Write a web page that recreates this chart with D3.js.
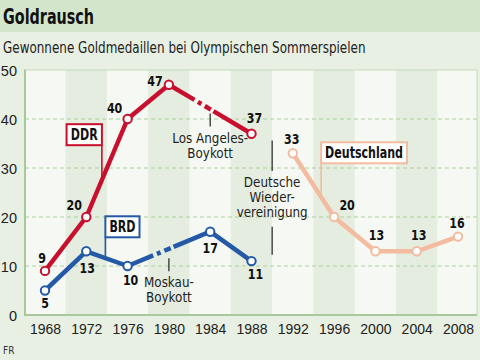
<!DOCTYPE html>
<html><head><meta charset="utf-8">
<script src="https://cdn.jsdelivr.net/npm/d3@7"></script>
<style>
body{margin:0;padding:0;background:#e8f0e3;}
svg{display:block;font-family:"DejaVu Sans Condensed","Liberation Sans Narrow",sans-serif;}
</style></head>
<body>
<svg id="c" width="480" height="360"></svg>
<script>
const years = [1968,1972,1976,1980,1984,1988,1992,1996,2000,2004,2008];
const ddrYears = [1968,1972,1976,1980,1988];
const ddrValues = [9,20,40,47,37];
const brdYears = [1968,1972,1976,1984,1988];
const brdValues = [5,13,10,17,11];
const deYears = [1992,1996,2000,2004,2008];
const deValues = [33,20,13,13,16];
const yTicks = [0,10,20,30,40,50];

const title = "Goldrausch";
const subtitle = "Gewonnene Goldmedaillen bei Olympischen Sommerspielen";
const source = "FR";

// label offsets (px) relative to markers
const ddrLabelOff = [[-3,-8],[-12,-7],[-13,-6],[-14,1],[3,-11]];
const brdLabelOff = [[0,17],[1,22],[3,19],[0,21],[4,18]];
const deLabelOff = [[-1,-9],[13,-7],[1,-11],[2,-11],[-1,-9]];

(function(){
const W=480,H=360;
const svg=d3.select("#c");
const x=d3.scaleLinear().domain([1968,2008]).range([45,458]);
const y=d3.scaleLinear().domain([0,50]).range([315,70]);
const step=(x(2008)-x(1968))/10;
const pL=25,pR=477,pT=y(50),pB=y(0);

const red="#c8102e", blue="#2459a8", salmon="#f3bb9f";

// scaled text helper (condensed look)
function T(parent,px,py,str,o){
  const gg=parent.append("g").attr("transform",`translate(${px},${py}) scale(${o.sx||1},1)`);
  const t=gg.append("text").attr("x",0).attr("y",0)
    .attr("font-size",o.size).attr("font-weight",o.weight||"normal")
    .attr("text-anchor",o.anchor||"start").attr("fill",o.fill||"#222");
  if(o.dy) t.attr("dy",o.dy);
  t.text(str);
  return {g:gg,t:t};
}

svg.append("rect").attr("width",W).attr("height",H).attr("fill","#e8f0e3");
svg.append("rect").attr("width",W).attr("height",32).attr("fill","#d3e5cb");
T(svg,3,24,title,{size:21,weight:"bold",sx:0.76,fill:"#111"});
T(svg,3,53,subtitle,{size:15.5,sx:0.86,fill:"#222"});

const g=svg.append("g");
g.selectAll("rect.s").data(years).join("rect")
 .attr("x",d=>Math.max(pL,x(d)-step/2))
 .attr("width",d=>Math.min(pR,x(d)+step/2)-Math.max(pL,x(d)-step/2))
 .attr("y",pT).attr("height",pB-pT)
 .attr("fill",(d,i)=>i%2? "#e5ede0":"#f6f9f3");

g.selectAll("line.gr").data(yTicks.filter(t=>t>0&&t<50)).join("line")
 .attr("x1",pL).attr("x2",pR).attr("y1",d=>y(d)).attr("y2",d=>y(d))
 .attr("stroke","#a9d19a").attr("stroke-width",1).attr("stroke-dasharray","4,3");
g.append("line").attr("x1",pL).attr("x2",pR).attr("y1",pT).attr("y2",pT).attr("stroke","#c3dcb8").attr("stroke-width",1);
g.append("line").attr("x1",pR).attr("x2",pR).attr("y1",pT).attr("y2",pB).attr("stroke","#c3dcb8").attr("stroke-width",1);
g.append("line").attr("x1",pL).attr("x2",pL).attr("y1",pT-0.5).attr("y2",pB+1).attr("stroke","#a8c99b").attr("stroke-width",2);
g.append("line").attr("x1",pL-1).attr("x2",pR).attr("y1",pB).attr("y2",pB).attr("stroke","#a8c99b").attr("stroke-width",2);

const yAxis=d3.axisLeft(y).tickValues(yTicks).tickSize(0).tickPadding(0);
const ya=svg.append("g").attr("transform","translate(17,0)").call(yAxis);
ya.select(".domain").remove();
ya.selectAll("text").attr("font-size",14.5).attr("fill","#222").attr("font-family",null).attr("dy","0.36em");
const xAxis=d3.axisBottom(x).tickValues(years).tickFormat(d3.format("d")).tickSize(0).tickPadding(0);
const xa=svg.append("g").attr("transform","translate(0,324)").call(xAxis);
xa.select(".domain").remove();
xa.selectAll("text").attr("font-size",14).attr("fill","#222").attr("font-family",null).attr("dy","0.72em");

svg.append("text").attr("x",3).attr("y",354).attr("font-size",10).attr("fill","#333").text(source);

const divX=(x(1988)+x(1992))/2;
svg.append("line").attr("x1",divX).attr("x2",divX).attr("y1",y(35.6)).attr("y2",y(29.4)).attr("stroke","#222").attr("stroke-width",1.2);
svg.append("line").attr("x1",divX).attr("x2",divX).attr("y1",y(18)).attr("y2",y(12.3)).attr("stroke","#222").attr("stroke-width",1.2);
["Deutsche","Wieder-","vereinigung"].forEach((s,i)=>T(svg,divX,187+i*15,s,{size:14,anchor:"middle",sx:0.95}));

function boycott(yr,val,lines){
  const cx=x(yr);
  svg.append("line").attr("x1",cx).attr("x2",cx).attr("y1",y(val)).attr("y2",y(val)+13).attr("stroke","#222").attr("stroke-width",1.2);
  lines.forEach((s,i)=>T(svg,cx,y(val)+29+i*15,s,{size:14,anchor:"middle",sx:0.95}));
}
boycott(1984,41.1,["Los Angeles-","Boykott"]);
boycott(1980,11.6,["Moskau-","Boykott"]);

const line=d3.line().x(d=>x(d[0])).y(d=>y(d[1]));
function series(yrs,vals,color,offs){
  const pts=yrs.map((d,i)=>[d,vals[i]]);
  for(let i=0;i<pts.length-1;i++){
    const a=pts[i],b=pts[i+1];
    const p=svg.append("path").attr("d",line([a,b])).attr("fill","none").attr("stroke",color)
      .attr("stroke-width",4.5).attr("stroke-linecap","butt");
    if(b[0]-a[0]>4){
      const L=p.node().getTotalLength();
      const s=L*0.31;
      p.attr("stroke-dasharray",`${s},4,4,4,7,3,${L}`);
    }
  }
  svg.selectAll(null).data(pts).join("circle").attr("cx",d=>x(d[0])).attr("cy",d=>y(d[1]))
    .attr("r",4.2).attr("fill","#fff").attr("stroke",color).attr("stroke-width",2);
  pts.forEach((d,i)=>T(svg,x(d[0])+offs[i][0],y(d[1])+offs[i][1],String(d[1]),
    {size:14.5,weight:"bold",anchor:"middle",sx:0.85,fill:"#111"}));
  return pts;
}
const ddrPts=series(ddrYears,ddrValues,red,ddrLabelOff);
const brdPts=series(brdYears,brdValues,blue,brdLabelOff);
const dePts=series(deYears,deValues,salmon,deLabelOff);

function interp(pts,px){
  for(let i=0;i<pts.length-1;i++){
    const x0=x(pts[i][0]),x1=x(pts[i+1][0]);
    if(px>=x0&&px<=x1){const t=(px-x0)/(x1-x0);return y(pts[i][1])+t*(y(pts[i+1][1])-y(pts[i][1]));}
  }
}
function callout(label,yr,val,color,pts,side){
  const cx=x(yr),cy=y(val);
  const sx=0.82;
  const grp=svg.append("g");
  const lt=T(grp,cx,cy,label,{size:15,weight:"bold",anchor:"middle",sx:sx,fill:"#111",dy:"0.36em"});
  const bb=lt.t.node().getBBox();
  const w=bb.width*sx;
  const pad=4;
  const bx0=cx-w/2-pad, bx1=cx+w/2+pad, by0=cy-10.5, by1=cy+10.5;
  const lx=side==="right"?bx1:bx0;
  grp.insert("line","g").attr("x1",lx).attr("x2",lx).attr("y1",by1).attr("y2",interp(pts,lx)).attr("stroke",color).attr("stroke-width",1.6);
  grp.insert("rect","g").attr("x",bx0).attr("y",by0).attr("width",bx1-bx0).attr("height",by1-by0)
    .attr("fill","#fff").attr("stroke",color).attr("stroke-width",2);
}
callout("DDR",1971.8,36.8,red,ddrPts,"right");
callout("BRD",1975.5,18,blue,brdPts,"left");
callout("Deutschland",1998.9,33.1,salmon,dePts,"left");
})();
</script>
</body></html>
